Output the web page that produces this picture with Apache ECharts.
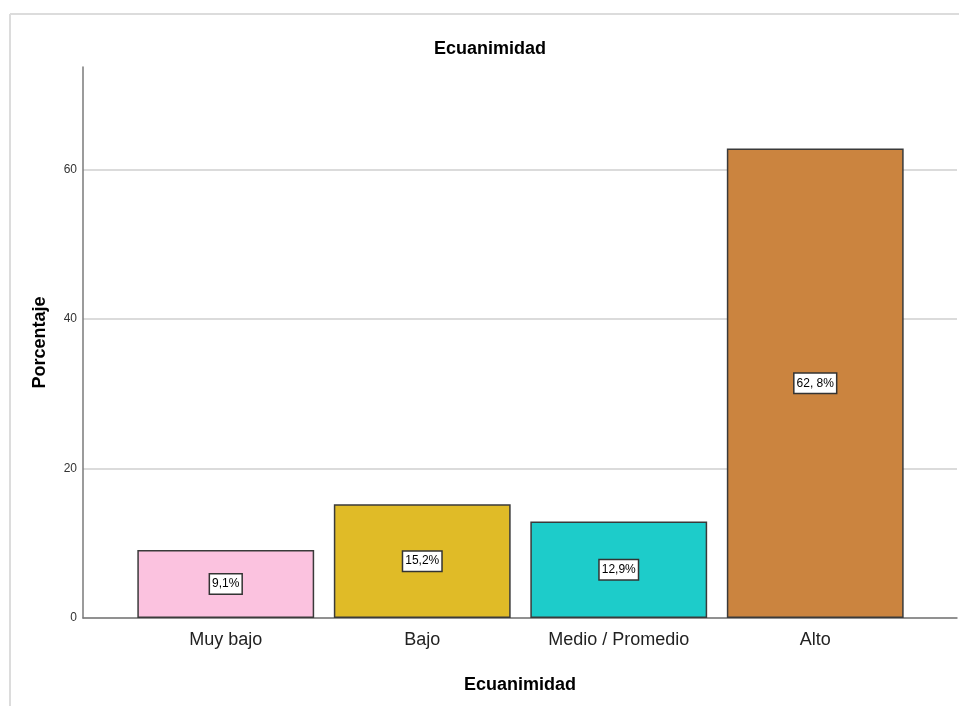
<!DOCTYPE html>
<html>
<head>
<meta charset="utf-8">
<script src="https://cdn.jsdelivr.net/npm/echarts@6/dist/echarts.min.js"></script>
<style>html,body{margin:0;padding:0;background:#fff}#c{width:959px;height:706px}</style>
</head>
<body>
<div id="c"></div>
<script>
const categories = ['Muy bajo', 'Bajo', 'Medio / Promedio', 'Alto'];
const values = [9.1, 15.2, 12.9, 62.8];
const valueLabels = ['9,1%', '15,2%', '12,9%', '62, 8%'];
const barColors = ['#FBC2DF', '#E0BB27', '#1DCCCA', '#CB843F'];
const yTicks = [0, 20, 40, 60];

const NARROW = "'Liberation Sans Narrow', 'Arial Narrow', 'Liberation Sans', Arial, sans-serif";
const SANS = "'Liberation Sans', Arial, sans-serif";

const chart = echarts.init(document.getElementById('c'), null, {renderer: 'canvas'});
const yMax = 73.7;
const gridColor = '#cfcfcf';

chart.setOption({
  backgroundColor: '#fff',
  animation: false,
  title: {
    text: 'Ecuanimidad',
    left: 434,
    top: 40,
    padding: 0,
    textStyle: {fontFamily: SANS, fontSize: 18, fontWeight: 'bold', color: '#000'}
  },
  graphic: [
    {type: 'line', shape: {x1: 10, y1: 14, x2: 959, y2: 14}, style: {stroke: '#dcdcdc', lineWidth: 2}, silent: true},
    {type: 'line', shape: {x1: 10, y1: 14, x2: 10, y2: 706}, style: {stroke: '#dcdcdc', lineWidth: 2}, silent: true}
  ],
  grid: [
    {left: 83, right: 2, top: 67, bottom: 88},
    {left: 127.5, width: 786, top: 67, bottom: 88}
  ],
  xAxis: [
    {
      gridIndex: 0, type: 'value', min: 0, max: 1,
      axisLine: {show: true, lineStyle: {color: '#7a7a7a', width: 1.5}},
      axisTick: {show: false}, axisLabel: {show: false}, splitLine: {show: false},
      name: 'Ecuanimidad', nameLocation: 'middle', nameGap: 58,
      nameTextStyle: {fontFamily: SANS, fontSize: 18, fontWeight: 'bold', color: '#000'}
    },
    {
      gridIndex: 1, type: 'category', data: categories,
      axisLine: {show: false}, axisTick: {show: false},
      axisLabel: {interval: 0, margin: 13, fontFamily: NARROW, fontSize: 18, color: '#222'}
    }
  ],
  yAxis: [
    {
      gridIndex: 0, type: 'value', min: 0, max: yMax, interval: 20,
      axisLine: {show: true, lineStyle: {color: '#7a7a7a', width: 1.5}},
      axisTick: {show: false},
      axisLabel: {margin: 6, fontFamily: NARROW, fontSize: 12, color: '#333',
        formatter: v => yTicks.includes(v) ? String(v) : ''},
      splitLine: {show: true, lineStyle: {color: [gridColor, gridColor, gridColor, gridColor, 'rgba(0,0,0,0)'], width: 1.5}},
      name: 'Porcentaje', nameLocation: 'middle', nameGap: 34, nameRotate: 90,
      nameTextStyle: {fontFamily: SANS, fontSize: 18, fontWeight: 'bold', color: '#000'}
    },
    {
      gridIndex: 1, type: 'value', min: 0, max: yMax, show: false, splitLine: {show: false}
    }
  ],
  series: [{
    type: 'bar',
    xAxisIndex: 1, yAxisIndex: 1,
    barCategoryGap: '10%',
    data: values.map((v, i) => ({
      value: v,
      itemStyle: {color: barColors[i], borderColor: '#3a3a3a', borderWidth: 1.5}
    })),
    label: {
      show: true, position: 'inside',
      formatter: p => valueLabels[p.dataIndex],
      backgroundColor: '#fff', borderColor: '#333', borderWidth: 1.5,
      padding: [4, 2, 3, 2],
      fontFamily: NARROW, fontSize: 12, color: '#000'
    }
  }]
});
</script>
</body>
</html>
